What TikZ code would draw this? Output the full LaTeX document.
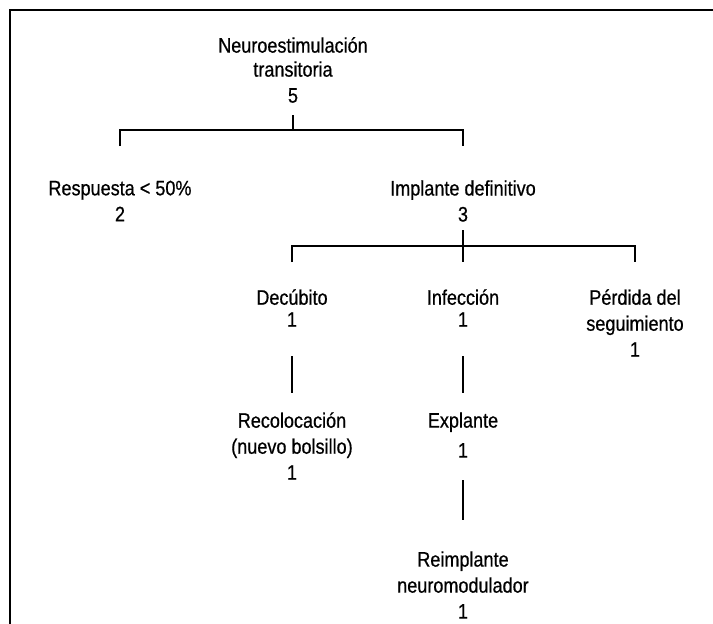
\documentclass[tikz,border=0pt]{standalone}
\usepackage{fontspec}
\setmainfont[FakeStretch=0.86,FakeBold=0.6]{Liberation Sans}
\begin{document}
\begin{tikzpicture}[x=1pt,y=-1pt,
  lbl/.style={align=center,inner sep=0pt,font=\fontsize{21}{26}\selectfont},
  ln/.style={line width=2pt}]
\useasboundingbox (0,0) rectangle (713,624);
\draw[line width=2pt] (713,10) -- (10,10) -- (10,626);
\node[lbl] (root) at (293,70) {Neuroestimulación\\[-2pt]transitoria\\5};
\node[lbl] (resp) at (120,201) {Respuesta < 50\%\\2};
\node[lbl] (impl) at (463,201) {Implante definitivo\\3};
\node[lbl] (dec) at (292,308) {Decúbito\\[-4pt]1};
\node[lbl] (inf) at (463,308) {Infección\\[-4pt]1};
\node[lbl] (perd) at (635,323) {Pérdida del\\seguimiento\\1};
\node[lbl] (reco) at (292,446) {Recolocación\\(nuevo bolsillo)\\1};
\node[lbl] (expl) at (463,435) {Explante\\[4pt]1};
\node[lbl] (reim) at (463,585) {Reimplante\\neuromodulador\\1};
% first bracket
\draw[ln] (root |- 0,115) -- (root |- 0,130);
\draw[ln] (resp |- 0,146) -- (resp |- 0,130) -- (impl |- 0,130) -- (impl |- 0,146);
% second bracket
\draw[ln] (impl |- 0,230) -- (impl |- 0,246);
\draw[ln] (dec |- 0,262) -- (dec |- 0,246) -- (perd |- 0,246) -- (perd |- 0,262);
\draw[ln] (inf |- 0,246) -- (inf |- 0,262);
% verticals
\draw[ln] (dec |- 0,356) -- (reco |- 0,393);
\draw[ln] (inf |- 0,356) -- (expl |- 0,393);
\draw[ln] (expl |- 0,480) -- (reim |- 0,520);
\end{tikzpicture}
\end{document}
